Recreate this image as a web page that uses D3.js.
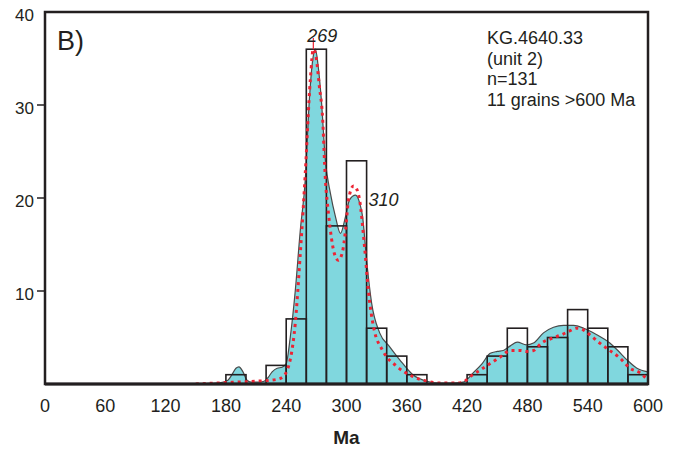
<!DOCTYPE html>
<html>
<head>
<meta charset="utf-8">
<script src="https://cdn.jsdelivr.net/npm/d3@7"></script>
<style>
  body { margin: 0; background: #fff; }
  text { font-family: "Liberation Sans", Arial, sans-serif; fill: #231f20; }
</style>
</head>
<body>
<svg id="chart" width="682" height="452"></svg>
<script>
// histogram bins (start age, Ma) and counts
var binStart = [180,200,220,240,260,280,300,320,340,360,380,400,420,440,460,480,500,520,540,560,580];
var binCount = [1,0,2,7,36,17,24,6,3,1,0,0,1,3,6,4,5,8,6,4,1];
var binWidth = 20;

// filled density curve
var kdeAge = [140,160,175,182,186,190,193,197,201,205,212,218,222,226,231,236,240,244,249,254,259,263,266,269,272,275,279,284,289,294,299,303,309,313,316,320,325,333,343,353,366,380,393,405,416,426,435,443,450,456,463,470,479,486,496,506,516,526,536,549,562,570,579,589,600];
var kdeVal = [0,0.05,0.15,0.4,1.0,1.7,1.85,1.3,0.4,0.2,0.2,0.3,0.7,1.3,1.7,1.8,2.2,5,10,16.5,22,30.5,34.5,36,34,30.5,24,20.5,18,16.2,18,19.8,20.3,19.5,18,13.3,8.7,5.5,4,2.6,1,0.3,0.1,0.1,0.2,1.2,2.2,3.3,3.5,3.6,4.1,4.5,4.2,4.4,5.5,6.1,6.3,6.3,6,5.3,4.4,3.6,2.6,1.7,1.3];

// dotted density curve
var pdpAge = [150,170,190,211,231,237,241,244,249,254,257,259,264,267,270,273,276,279,282,285,288,292,296,299,302,307,310,313,318,322,327,336,350,366,380,395,410,416,423,433,443,453,463,473,479,486,494,504,514,522,529,536,542,552,562,572,582,592,600];
var pdpVal = [0,0.1,0.2,0.3,0.5,0.8,1.5,2.6,6.5,14,19,22.7,32.7,36,35,32,29,22,18.4,15.7,14,13.3,14.2,16.5,19.8,21.3,21,19.8,14.7,9.8,6.1,3.6,1.9,0.8,0.3,0.1,0.1,0.2,0.8,1.5,2.2,2.9,3.6,3.6,3.5,3.6,4.4,4.9,5.3,5.7,6,5.8,5.3,4.4,3.6,2.8,1.7,1.2,0.4];

var xTicks = [0,60,120,180,240,300,360,420,480,540,600];
var yTicks = [10,20,30,40];
var peakLabels = [{age: 269, text: "269"}, {age: 310, text: "310"}];
var infoLines = ["KG.4640.33", "(unit 2)", "n=131", "11 grains >600 Ma"];

var svg = d3.select("#chart"),
    margin = {top: 12, right: 34, bottom: 68, left: 45},
    width = 682 - margin.left - margin.right,
    height = 452 - margin.top - margin.bottom,
    g = svg.append("g").attr("transform", "translate(" + margin.left + "," + margin.top + ")");

var x = d3.scaleLinear().domain([0, 600]).range([0, width]);
var y = d3.scaleLinear().domain([0, 40]).range([height, 0]);

svg.append("clipPath").attr("id", "plotclip")
  .append("rect").attr("width", width).attr("height", height);

var plot = g.append("g").attr("clip-path", "url(#plotclip)");

// cyan filled curve
var kde = kdeAge.map(function(d, i) { return [d, kdeVal[i]]; });
plot.append("path")
    .datum(kde)
    .attr("fill", "#80d7de")
    .attr("stroke", "#4a4a4a")
    .attr("stroke-width", 1.2)
    .attr("d", d3.area()
      .x(function(d) { return x(d[0]); })
      .y0(y(0))
      .y1(function(d) { return y(d[1]); })
      .curve(d3.curveMonotoneX));

// histogram bars (outline only)
plot.append("g")
  .selectAll("rect")
  .data(binStart.map(function(d, i) { return {start: d, n: binCount[i]}; }).filter(function(d) { return d.n > 0; }))
  .enter().append("rect")
    .attr("x", function(d) { return x(d.start); })
    .attr("y", function(d) { return y(d.n); })
    .attr("width", function(d) { return x(d.start + binWidth) - x(d.start); })
    .attr("height", function(d) { return y(0) - y(d.n); })
    .attr("fill", "none")
    .attr("stroke", "#231f20")
    .attr("stroke-width", 1.6);

// red dotted curve
var pdp = pdpAge.map(function(d, i) { return [d, pdpVal[i]]; });
plot.append("path")
    .datum(pdp)
    .attr("fill", "none")
    .attr("stroke", "#ec2434")
    .attr("stroke-width", 3)
    .attr("stroke-dasharray", "3,4")
    .attr("d", d3.line()
      .x(function(d) { return x(d[0]); })
      .y(function(d) { return y(d[1]); })
      .curve(d3.curveMonotoneX));

// marker from 269 label to peak
g.append("line")
    .attr("x1", x(267)).attr("x2", x(267))
    .attr("y1", 26).attr("y2", y(36))
    .attr("stroke", "#ec2434")
    .attr("stroke-width", 1.2);

// frame
g.append("rect")
    .attr("width", width)
    .attr("height", height)
    .attr("fill", "none")
    .attr("stroke", "#231f20")
    .attr("stroke-width", 2.5);
g.append("line")
    .attr("x1", 0).attr("x2", width)
    .attr("y1", height).attr("y2", height)
    .attr("stroke", "#231f20")
    .attr("stroke-width", 3);

// y ticks
var yt = g.append("g").selectAll("g").data(yTicks).enter().append("g")
    .attr("transform", function(d) { return "translate(0," + y(d) + ")"; });
yt.filter(function(d) { return d < 40; }).append("line")
    .attr("x1", -8).attr("x2", 0)
    .attr("stroke", "#231f20").attr("stroke-width", 1.5);
yt.append("text")
    .attr("x", -11)
    .attr("dy", "0.5em")
    .attr("text-anchor", "end")
    .attr("font-size", 17)
    .text(function(d) { return d; });

// x tick labels
g.append("g").selectAll("text").data(xTicks).enter().append("text")
    .attr("x", function(d) { return x(d); })
    .attr("y", height + 28)
    .attr("text-anchor", "middle")
    .attr("font-size", 18)
    .text(function(d) { return d; });

g.append("text")
    .attr("x", width / 2)
    .attr("y", height + 60)
    .attr("text-anchor", "middle")
    .attr("font-size", 19)
    .attr("font-weight", "bold")
    .text("Ma");

// panel letter
g.append("text")
    .attr("x", 12)
    .attr("y", 38)
    .attr("font-size", 27)
    .text("B)");

// peak labels
g.append("text")
    .attr("x", x(peakLabels[0].age) - 8)
    .attr("y", 30)
    .attr("font-size", 18)
    .attr("font-style", "italic")
    .text(peakLabels[0].text);
g.append("text")
    .attr("x", x(peakLabels[1].age) + 12)
    .attr("y", 194)
    .attr("font-size", 18)
    .attr("font-style", "italic")
    .text(peakLabels[1].text);

// sample info
g.append("g").selectAll("text").data(infoLines).enter().append("text")
    .attr("x", 442)
    .attr("y", function(d, i) { return 32 + i * 20.7; })
    .attr("font-size", 18)
    .text(function(d) { return d; });
</script>
</body>
</html>
